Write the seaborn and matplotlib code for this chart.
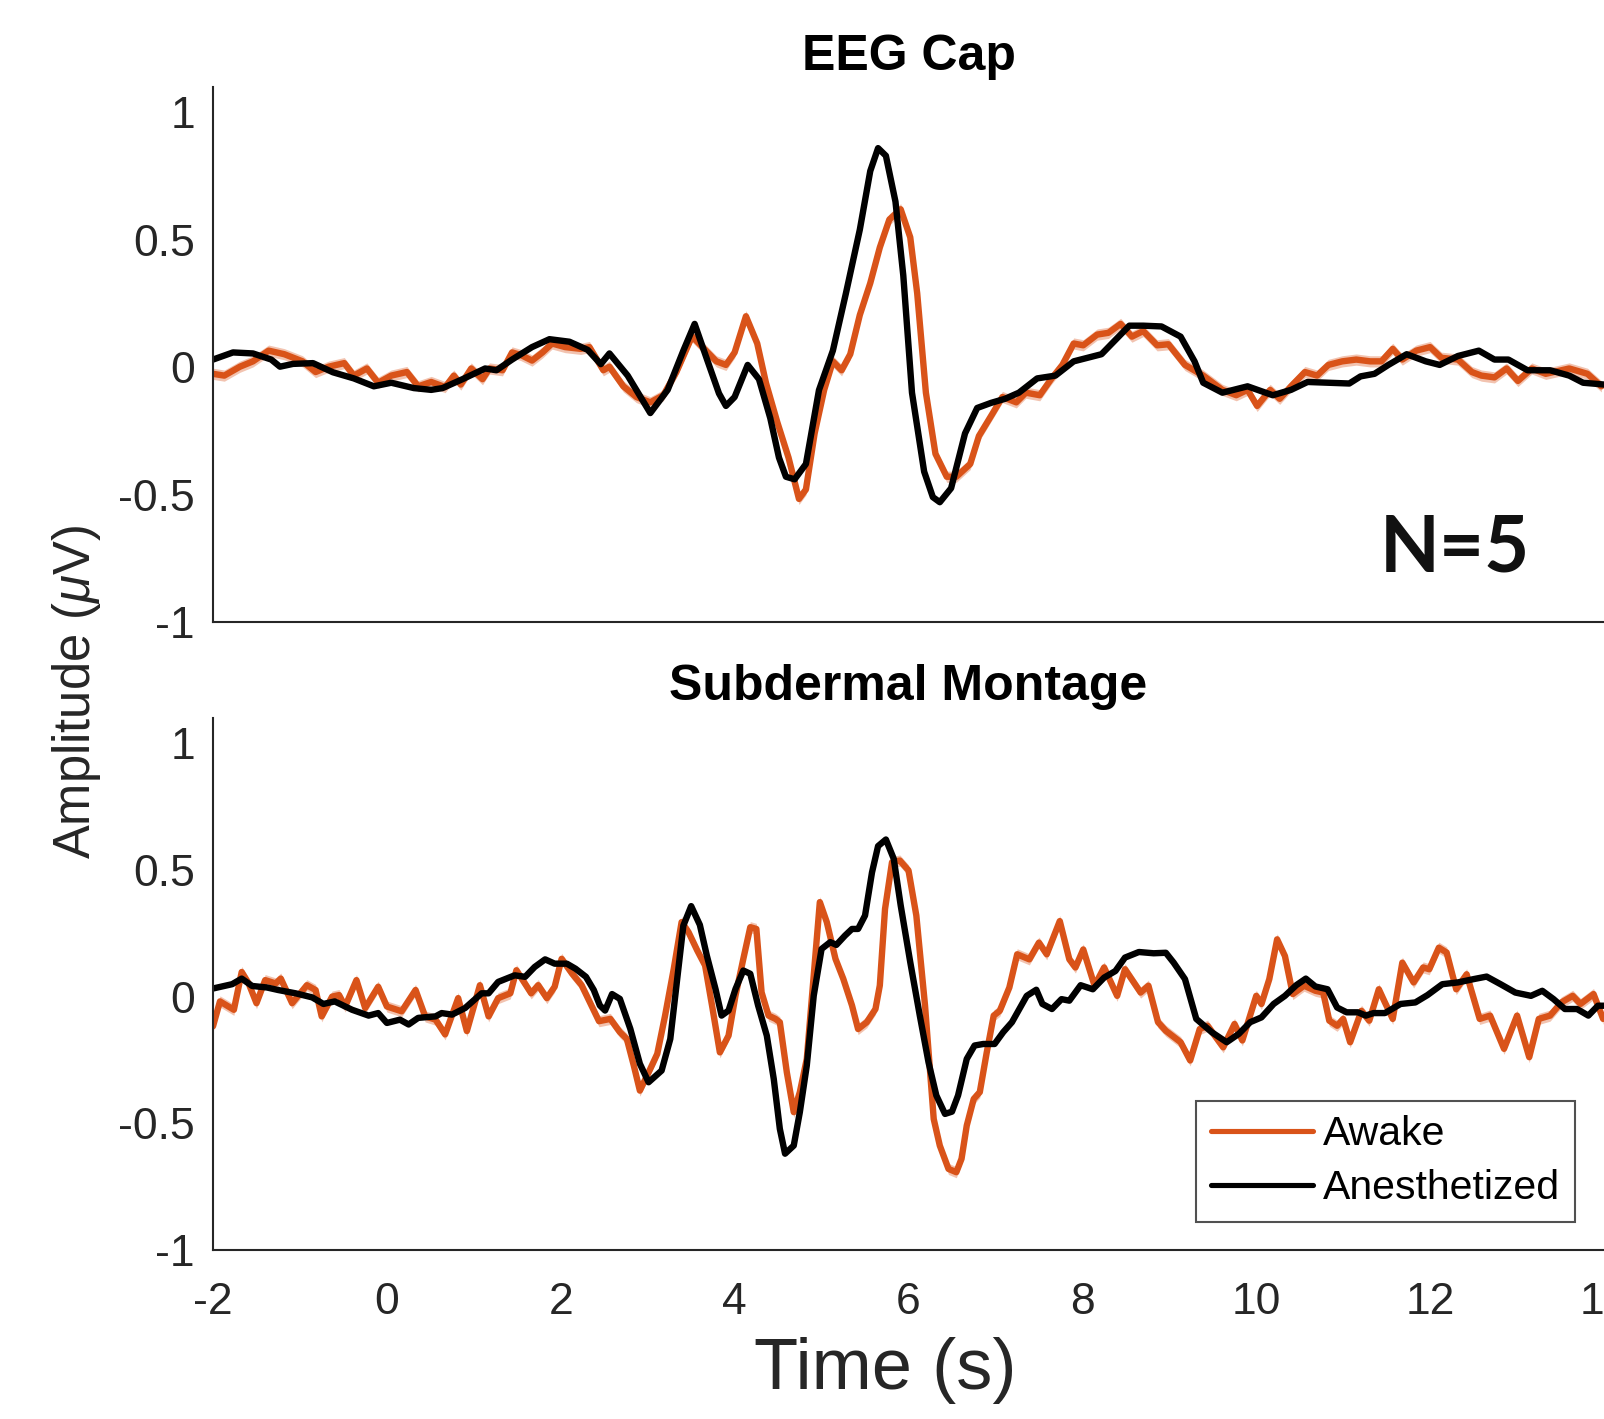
import numpy as np
import pandas as pd
import matplotlib
matplotlib.use("Agg")
import matplotlib.pyplot as plt
from matplotlib.lines import Line2D
import seaborn as sns

# ---------------- data ----------------
conditions = ["Awake", "Anesthetized"]
panel_titles = ["EEG Cap", "Subdermal Montage"]
x_ticks = [-2, 0, 2, 4, 6, 8, 10, 12, 14]
y_ticks = [-1, -0.5, 0, 0.5, 1]
y_tick_labels = ["-1", "-0.5", "0", "0.5", "1"]
n_label = "N=5"
awake_sem = 0.022

# EEG Cap - Anesthetized
cap_anes_t = [-2.0, -1.77, -1.54, -1.33, -1.23, -1.08, -0.85, -0.62, -0.38, -0.15, 0.05, 0.31, 0.51, 0.64,
              0.87, 1.13, 1.26, 1.44, 1.67, 1.87, 2.1, 2.31, 2.46, 2.56, 2.77, 3.03, 3.23, 3.41, 3.54, 3.69,
              3.82, 3.9, 4.0, 4.15, 4.28, 4.41, 4.51, 4.59, 4.69, 4.82, 4.97, 5.13, 5.28, 5.44, 5.56, 5.65,
              5.74, 5.85, 5.94, 6.04, 6.18, 6.28, 6.36, 6.49, 6.65, 6.79, 6.95, 7.11, 7.27, 7.48, 7.69, 7.9,
              8.22, 8.38, 8.54, 8.7, 8.91, 9.13, 9.29, 9.39, 9.61, 9.9, 10.19, 10.4, 10.59, 11.07, 11.2,
              11.36, 11.52, 11.73, 11.95, 12.11, 12.32, 12.56, 12.74, 12.9, 13.12, 13.38, 13.6, 13.76, 14.0]
cap_anes_v = [0.03, 0.058, 0.054, 0.03, 0.002, 0.013, 0.016, -0.02, -0.044, -0.075, -0.061, -0.082, -0.089,
              -0.082, -0.047, -0.005, -0.012, 0.03, 0.079, 0.11, 0.1, 0.068, 0.012, 0.054, -0.033, -0.18,
              -0.089, 0.065, 0.17, 0.023, -0.103, -0.152, -0.117, 0.009, -0.047, -0.2, -0.355, -0.43, -0.44,
              -0.38, -0.09, 0.065, 0.29, 0.54, 0.77, 0.86, 0.83, 0.65, 0.36, -0.10, -0.41, -0.51, -0.53,
              -0.475, -0.26, -0.16, -0.14, -0.124, -0.10, -0.044, -0.033, 0.023, 0.051, 0.107, 0.163, 0.163,
              0.16, 0.12, 0.023, -0.061, -0.1, -0.075, -0.11, -0.089, -0.058, -0.064, -0.036, -0.026, 0.009,
              0.051, 0.023, 0.009, 0.044, 0.065, 0.03, 0.03, -0.012, -0.012, -0.033, -0.061, -0.068]

# EEG Cap - Awake
cap_awake_t = [-2.0, -1.87, -1.69, -1.54, -1.36, -1.18, -0.97, -0.82, -0.67, -0.49, -0.38, -0.23, -0.1, 0.05,
               0.23, 0.36, 0.51, 0.67, 0.77, 0.85, 0.97, 1.1, 1.18, 1.33, 1.44, 1.54, 1.67, 1.79, 1.9, 2.05,
               2.23, 2.33, 2.49, 2.56, 2.72, 2.87, 3.03, 3.18, 3.33, 3.51, 3.67, 3.79, 3.9, 4.0, 4.13, 4.26,
               4.36, 4.49, 4.62, 4.74, 4.82, 4.92, 5.03, 5.13, 5.23, 5.33, 5.44, 5.56, 5.67, 5.78, 5.91, 6.02,
               6.1, 6.2, 6.31, 6.44, 6.55, 6.71, 6.81, 6.97, 7.08, 7.24, 7.35, 7.51, 7.64, 7.77, 7.9, 8.01,
               8.17, 8.3, 8.44, 8.57, 8.7, 8.86, 8.99, 9.18, 9.39, 9.61, 9.77, 9.9, 10.01, 10.16, 10.27, 10.4,
               10.56, 10.7, 10.83, 10.99, 11.15, 11.31, 11.44, 11.57, 11.68, 11.84, 12.0, 12.13, 12.32, 12.48,
               12.59, 12.74, 12.88, 13.01, 13.17, 13.33, 13.6, 13.81, 13.97]
cap_awake_v = [-0.026, -0.033, 0.002, 0.023, 0.065, 0.051, 0.023, -0.019, 0.002, 0.016, -0.033, -0.005,
               -0.061, -0.033, -0.019, -0.075, -0.058, -0.078, -0.033, -0.068, -0.005, -0.047, -0.005, -0.012,
               0.058, 0.048, 0.026, 0.058, 0.093, 0.079, 0.072, 0.079, -0.012, 0.002, -0.075, -0.117, -0.138,
               -0.11, -0.019, 0.121, 0.065, 0.023, 0.009, 0.058, 0.2, 0.093, -0.061, -0.215, -0.355, -0.517,
               -0.48, -0.26, -0.089, 0.023, -0.012, 0.051, 0.205, 0.33, 0.47, 0.58, 0.62, 0.51, 0.29, -0.10,
               -0.34, -0.43, -0.43, -0.38, -0.27, -0.18, -0.117, -0.138, -0.1, -0.11, -0.047, 0.009, 0.093,
               0.086, 0.128, 0.135, 0.17, 0.12, 0.142, 0.086, 0.09, 0.009, -0.033, -0.089, -0.11, -0.089,
               -0.152, -0.089, -0.124, -0.075, -0.019, -0.033, 0.009, 0.023, 0.03, 0.023, 0.023, 0.072, 0.03,
               0.065, 0.079, 0.037, 0.03, -0.019, -0.033, -0.04, -0.005, -0.054, -0.005, -0.026, -0.005,
               -0.026, -0.075]

# Subdermal Montage - Anesthetized
sub_anes_t = [-2.0, -1.78, -1.67, -1.55, -1.38, -1.25, -1.05, -0.86, -0.73, -0.6, -0.4, -0.21, -0.1, 0.0, 0.15,
              0.25, 0.36, 0.56, 0.63, 0.75, 0.9, 1.09, 1.17, 1.28, 1.47, 1.59, 1.7, 1.82, 1.93, 2.07, 2.17,
              2.29, 2.38, 2.45, 2.51, 2.59, 2.68, 2.8, 2.91, 3.01, 3.16, 3.26, 3.34, 3.41, 3.5, 3.6, 3.68,
              3.78, 3.85, 3.93, 4.01, 4.1, 4.18, 4.27, 4.37, 4.45, 4.52, 4.58, 4.68, 4.75, 4.83, 4.91, 5.0,
              5.1, 5.17, 5.27, 5.35, 5.42, 5.5, 5.58, 5.65, 5.74, 5.83, 5.91, 6.02, 6.13, 6.23, 6.32, 6.42,
              6.5, 6.57, 6.67, 6.76, 6.86, 6.99, 7.09, 7.19, 7.36, 7.47, 7.54, 7.65, 7.76, 7.85, 7.98, 8.12,
              8.25, 8.38, 8.49, 8.65, 8.82, 8.96, 9.05, 9.18, 9.31, 9.49, 9.66, 9.8, 9.93, 10.06, 10.2, 10.33,
              10.46, 10.57, 10.68, 10.82, 10.93, 11.04, 11.17, 11.26, 11.35, 11.48, 11.66, 11.83, 11.97,
              12.14, 12.32, 12.5, 12.65, 12.81, 12.98, 13.16, 13.29, 13.42, 13.55, 13.69, 13.82, 13.93, 14.0]
sub_anes_v = [0.032, 0.049, 0.071, 0.042, 0.036, 0.026, 0.013, -0.003, -0.029, -0.019, -0.052, -0.075, -0.065,
              -0.104, -0.091, -0.11, -0.084, -0.078, -0.065, -0.071, -0.045, 0.013, 0.013, 0.058, 0.084, 0.078,
              0.117, 0.147, 0.13, 0.13, 0.11, 0.078, 0.026, -0.035, -0.055, 0.01, -0.009, -0.127, -0.265,
              -0.338, -0.292, -0.167, 0.07, 0.28, 0.357, 0.283, 0.162, 0.03, -0.075, -0.055, 0.03, 0.103,
              0.09, -0.035, -0.154, -0.325, -0.522, -0.62, -0.588, -0.456, -0.272, 0.004, 0.188, 0.215, 0.204,
              0.241, 0.267, 0.267, 0.32, 0.49, 0.594, 0.62, 0.544, 0.36, 0.136, -0.075, -0.259, -0.39, -0.463,
              -0.454, -0.39, -0.246, -0.193, -0.187, -0.187, -0.14, -0.101, 0.003, 0.027, -0.029, -0.049,
              -0.01, -0.016, 0.045, 0.029, 0.075, 0.101, 0.154, 0.176, 0.171, 0.173, 0.134, 0.069, -0.088,
              -0.141, -0.18, -0.147, -0.101, -0.082, -0.029, 0.003, 0.045, 0.071, 0.04, 0.029, -0.043, -0.062,
              -0.062, -0.075, -0.065, -0.065, -0.029, -0.023, 0.006, 0.049, 0.056, 0.069, 0.079, 0.049, 0.016,
              0.003, 0.023, -0.01, -0.049, -0.049, -0.075, -0.036, -0.036]

# Subdermal Montage - Awake
sub_awake_t = [-2.0, -1.92, -1.76, -1.67, -1.59, -1.5, -1.4, -1.28, -1.22, -1.09, -0.92, -0.82, -0.75, -0.63,
               -0.55, -0.48, -0.35, -0.25, -0.1, 0.0, 0.17, 0.33, 0.44, 0.56, 0.67, 0.82, 0.92, 1.07, 1.17,
               1.28, 1.42, 1.49, 1.66, 1.74, 1.84, 1.93, 2.01, 2.13, 2.24, 2.44, 2.57, 2.68, 2.76, 2.84, 2.91,
               3.03, 3.11, 3.2, 3.3, 3.39, 3.47, 3.57, 3.66, 3.74, 3.83, 3.93, 4.01, 4.1, 4.18, 4.25, 4.31,
               4.39, 4.47, 4.52, 4.6, 4.68, 4.75, 4.83, 4.91, 4.98, 5.06, 5.16, 5.25, 5.35, 5.42, 5.52, 5.62,
               5.67, 5.73, 5.81, 5.9, 6.0, 6.09, 6.19, 6.29, 6.36, 6.46, 6.55, 6.61, 6.67, 6.75, 6.82, 6.9,
               6.98, 7.05, 7.16, 7.25, 7.39, 7.5, 7.59, 7.74, 7.85, 7.92, 8.01, 8.14, 8.25, 8.4, 8.49, 8.67,
               8.76, 8.87, 8.96, 9.13, 9.24, 9.35, 9.44, 9.62, 9.75, 9.84, 10.0, 10.06, 10.15, 10.24, 10.33,
               10.42, 10.55, 10.68, 10.77, 10.84, 10.93, 11.0, 11.08, 11.21, 11.3, 11.41, 11.48, 11.57, 11.68,
               11.81, 11.92, 11.99, 12.1, 12.19, 12.3, 12.42, 12.57, 12.69, 12.85, 13.0, 13.14, 13.25, 13.38,
               13.51, 13.64, 13.73, 13.88, 13.99]
sub_awake_v = [-0.117, -0.019, -0.052, 0.097, 0.052, -0.026, 0.065, 0.052, 0.071, -0.026, 0.045, 0.026,
               -0.078, 0.0, 0.006, -0.039, 0.065, -0.045, 0.039, -0.039, -0.058, 0.026, -0.078, -0.091, -0.149,
               -0.006, -0.136, 0.045, -0.078, -0.006, 0.013, 0.104, 0.013, 0.045, -0.006, 0.039, 0.149, 0.091,
               0.045, -0.097, -0.088, -0.14, -0.167, -0.272, -0.371, -0.285, -0.226, -0.075, 0.11, 0.294, 0.254,
               0.182, 0.123, -0.035, -0.22, -0.154, 0.004, 0.149, 0.274, 0.267, 0.017, -0.075, -0.088, -0.101,
               -0.298, -0.456, -0.377, -0.246, 0.083, 0.373, 0.294, 0.149, 0.07, -0.035, -0.128, -0.101,
               -0.049, 0.044, 0.346, 0.53, 0.537, 0.498, 0.32, -0.035, -0.483, -0.588, -0.68, -0.693, -0.64,
               -0.509, -0.404, -0.377, -0.22, -0.075, -0.056, 0.036, 0.167, 0.147, 0.213, 0.167, 0.298, 0.147,
               0.115, 0.186, 0.043, 0.115, 0.003, 0.108, 0.016, 0.043, -0.101, -0.135, -0.18, -0.252, -0.128,
               -0.115, -0.2, -0.108, -0.173, 0.003, -0.029, 0.069, 0.226, 0.16, 0.01, 0.043, 0.023, 0.016,
               -0.095, -0.115, -0.088, -0.18, -0.056, -0.095, 0.029, -0.023, -0.088, 0.134, 0.056, 0.115, 0.108,
               0.193, 0.174, 0.029, 0.088, -0.088, -0.075, -0.206, -0.075, -0.239, -0.088, -0.075, -0.023,
               0.003, -0.029, 0.01, -0.088]

# ---------------- styling ----------------
sns.set_theme(style="white")
plt.rcParams["font.family"] = ["Liberation Sans", "DejaVu Sans"]
plt.rcParams["axes.unicode_minus"] = False
plt.rcParams["mathtext.fontset"] = "custom"
plt.rcParams["mathtext.rm"] = "Liberation Sans"
plt.rcParams["mathtext.it"] = "Liberation Sans:italic"

ORANGE = "#D95319"
BAND = "#E8926F"
BLACK = "#000000"
AX_COL = "#262626"
palette = {"Awake": ORANGE, "Anesthetized": BLACK}

fig = plt.figure(figsize=(16.04, 14.19), dpi=100)
ax_top = fig.add_axes([0.1328, 0.5617, 0.8672, 0.3770])
ax_bot = fig.add_axes([0.1328, 0.1191, 0.8672, 0.3750])

panels = [
    (ax_top, cap_awake_t, cap_awake_v, cap_anes_t, cap_anes_v, panel_titles[0], 12),
    (ax_bot, sub_awake_t, sub_awake_v, sub_anes_t, sub_anes_v, panel_titles[1], 13),
]

for ax, aw_t, aw_v, an_t, an_v, title, pad in panels:
    df = pd.concat([
        pd.DataFrame({"t": aw_t, "v": aw_v, "cond": conditions[0]}),
        pd.DataFrame({"t": an_t, "v": an_v, "cond": conditions[1]}),
    ], ignore_index=True)
    aw = np.array(aw_v)
    ax.fill_between(aw_t, aw - awake_sem, aw + awake_sem, color=BAND, alpha=0.55, lw=0, zorder=1)
    sns.lineplot(data=df, x="t", y="v", hue="cond", hue_order=conditions, palette=palette,
                 estimator=None, lw=4.6, legend=False, ax=ax, zorder=2)
    ax.set_xlim(-2, 14)
    ax.set_ylim(-1, 1.1)
    ax.set_xticks(x_ticks)
    ax.set_yticks(y_ticks)
    ax.set_yticklabels(y_tick_labels)
    ax.set_xlabel("")
    ax.set_ylabel("")
    ax.set_title(title, fontsize=36, fontweight="bold", color="black", pad=pad)
    sns.despine(ax=ax, top=True, right=True)
    for s in ["left", "bottom"]:
        ax.spines[s].set_color(AX_COL)
        ax.spines[s].set_linewidth(1.5)
    ax.tick_params(axis="both", direction="in", length=10, width=1.5, colors=AX_COL,
                   labelsize=32, labelcolor=AX_COL)
    ax.tick_params(axis="y", pad=13)
    ax.tick_params(axis="x", pad=23)

ax_top.tick_params(axis="x", labelbottom=False)
ax_top.text(12.28, -0.714, n_label, ha="center", va="center", fontsize=56,
            family=["Lato", "DejaVu Sans"], fontweight="bold", color="#111111")

handles = [Line2D([0], [0], color=palette[c], lw=3.7) for c in conditions]
leg = ax_bot.legend(handles, conditions, loc="lower right", bbox_to_anchor=(0.979, 0.053),
                    borderaxespad=0, fontsize=29.5, handlelength=2.5, handletextpad=0.25,
                    labelspacing=0.4, borderpad=0.35, frameon=True, fancybox=False)
leg.get_frame().set_edgecolor(AX_COL)
leg.get_frame().set_linewidth(1.5)
for txt in leg.get_texts():
    txt.set_color("black")

fig.text(0.048, 0.5127, r"Amplitude ($\mu$V)", rotation=90, ha="center", va="center",
         fontsize=36.5, color=AX_COL)
fig.text(0.552, 0.034, "Time (s)", ha="center", va="center", fontsize=52, color=AX_COL)

fig.savefig("out.png", dpi=100, facecolor="white")
